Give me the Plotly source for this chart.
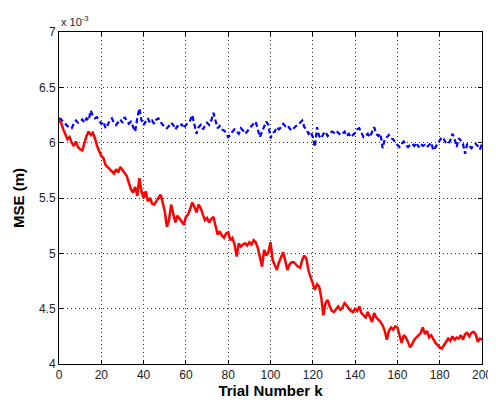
import plotly.graph_objects as go

# Trial numbers
trials = list(range(0, 201))

# MSE values in units of 1e-3 m (axis shows "x 10^-3")
mse_red = [
    6.20, 6.18, 6.12, 6.08, 6.03, 6.05, 6.00, 5.97, 6.01, 5.96, 5.94,
    5.93, 6.00, 6.06, 6.10, 6.07, 6.09, 6.04, 5.97, 5.92, 5.88,
    5.86, 5.80, 5.78, 5.76, 5.74, 5.72, 5.76, 5.73, 5.78, 5.75,
    5.72, 5.70, 5.64, 5.58, 5.55, 5.60, 5.52, 5.68, 5.56, 5.50,
    5.56, 5.47, 5.50, 5.45, 5.44, 5.47, 5.50, 5.53, 5.46, 5.38,
    5.24, 5.30, 5.44, 5.35, 5.28, 5.34, 5.31, 5.29, 5.26, 5.33,
    5.35, 5.40, 5.46, 5.42, 5.37, 5.44, 5.41, 5.35, 5.30, 5.32,
    5.28, 5.31, 5.33, 5.25, 5.17, 5.20, 5.16, 5.14, 5.18, 5.19,
    5.12, 5.14, 5.08, 4.97, 5.09, 5.06, 5.08, 5.09, 5.07, 5.10,
    5.08, 5.12, 5.10, 5.05, 4.95, 4.88, 5.03, 4.98, 5.01, 5.10,
    4.94, 4.90, 4.85, 4.92, 4.96, 5.01, 4.93, 4.85, 4.90, 4.92,
    4.92, 4.90, 4.88, 4.87, 4.94, 4.98, 4.95, 4.84, 4.78, 4.73,
    4.67, 4.72, 4.70, 4.60, 4.44, 4.55, 4.58, 4.52, 4.48, 4.47,
    4.50, 4.52, 4.49, 4.51, 4.55, 4.53, 4.50, 4.48, 4.47, 4.50,
    4.48, 4.52, 4.46, 4.44, 4.42, 4.47, 4.43, 4.38, 4.46, 4.42,
    4.40, 4.38, 4.35, 4.30, 4.22, 4.30, 4.33, 4.31, 4.34, 4.33,
    4.26, 4.19, 4.26, 4.24, 4.20, 4.15, 4.18, 4.22, 4.24, 4.26,
    4.28, 4.33, 4.27, 4.30, 4.24, 4.26, 4.22, 4.19, 4.17, 4.15,
    4.14, 4.17, 4.20, 4.23, 4.21, 4.25, 4.22, 4.24, 4.23, 4.26,
    4.22, 4.27, 4.28, 4.25, 4.28, 4.29, 4.27, 4.20, 4.23, 4.22,
]

mse_blue = [
    6.22, 6.21, 6.19, 6.17, 6.15, 6.14, 6.13, 6.17, 6.20, 6.18, 6.19,
    6.21, 6.18, 6.22, 6.20, 6.29, 6.24, 6.22, 6.23, 6.20, 6.17,
    6.19, 6.13, 6.16, 6.20, 6.22, 6.18, 6.16, 6.19, 6.21, 6.18,
    6.23, 6.20, 6.17, 6.19, 6.15, 6.10, 6.22, 6.31, 6.20, 6.16,
    6.19, 6.22, 6.18, 6.20, 6.17, 6.21, 6.22, 6.19, 6.16, 6.15,
    6.13, 6.15, 6.18, 6.16, 6.12, 6.15, 6.14, 6.17, 6.13, 6.16,
    6.18, 6.20, 6.25, 6.17, 6.08, 6.14, 6.16, 6.12, 6.15, 6.18,
    6.16, 6.20, 6.27, 6.19, 6.13, 6.15, 6.12, 6.11, 6.09, 6.05,
    6.07, 6.10, 6.12, 6.10, 6.08, 6.13, 6.11, 6.08, 6.10, 6.13,
    6.15, 6.17, 6.19, 6.12, 6.05, 6.10, 6.14, 6.19, 6.16, 6.04,
    6.09, 6.10, 6.14, 6.12, 6.14, 6.17, 6.15, 6.16, 6.13, 6.11,
    6.13, 6.15, 6.16, 6.18, 6.20, 6.14, 6.12, 6.08, 6.10, 6.05,
    5.96, 6.14, 6.06, 6.04, 6.08, 6.10, 6.06, 6.08, 6.10, 6.09,
    6.11, 6.09, 6.07, 6.08, 6.10, 6.06, 6.08, 6.05, 6.07, 6.09,
    6.12, 6.13, 6.09, 6.05, 6.06, 6.08, 6.05, 6.10, 6.14, 6.08,
    6.06, 6.08, 5.95, 6.03, 6.05, 6.07, 6.04, 6.03, 6.00, 5.98,
    5.96, 5.99, 6.01, 5.98, 5.96, 5.98, 5.99, 5.97, 6.00, 5.96,
    5.99, 5.97, 5.98, 5.96, 5.98, 6.00, 5.93, 5.96, 5.98, 6.01,
    6.05, 6.03, 6.00, 5.99, 6.02, 6.08, 6.04, 5.96, 6.04, 6.02,
    5.99, 5.90, 5.99, 5.97, 5.95, 5.98, 5.99, 5.97, 5.94, 5.99,
]

x_ticks = [0, 20, 40, 60, 80, 100, 120, 140, 160, 180, 200]
y_ticks = [4, 4.5, 5, 5.5, 6, 6.5, 7]
y_tick_labels = ["4", "4.5", "5", "5.5", "6", "6.5", "7"]

fig = go.Figure()
fig.add_trace(go.Scatter(x=trials, y=mse_blue, mode="lines",
                         line=dict(color="#0000ff", width=2.2, dash="5px,3px"),
                         showlegend=False))
fig.add_trace(go.Scatter(x=trials, y=mse_red, mode="lines",
                         line=dict(color="#ff0000", width=2.5),
                         showlegend=False))

axis_common = dict(
    showline=True, linecolor="black", linewidth=1, mirror="ticks",
    ticks="inside", ticklen=4, tickcolor="black",
    showgrid=True, gridcolor="#333333", griddash="1px,3px", gridwidth=1,
    zeroline=False, automargin=False,
    tickfont=dict(family="Liberation Sans, Arial", size=12, color="#222222"),
)

fig.update_xaxes(range=[0, 200], tickvals=x_ticks,
                 title=dict(text="<b>Trial Number k</b>", standoff=2,
                            font=dict(family="Liberation Sans, Arial", size=15, color="black")),
                 **axis_common)
fig.update_yaxes(range=[4, 7], tickvals=y_ticks, ticktext=y_tick_labels,
                 title=dict(text="<b>MSE (m)</b>", standoff=10,
                            font=dict(family="Liberation Sans, Arial", size=15, color="black")),
                 **axis_common)

fig.add_annotation(xref="paper", yref="paper", x=0.0, y=1.0, xanchor="left", yanchor="bottom",
                   text="x 10<sup>-3</sup>", showarrow=False, yshift=2,
                   font=dict(family="Liberation Sans, Arial", size=11, color="#222222"))

# The page body adds an 8px offset, so the figure is sized to fit the window.
fig.update_layout(
    width=488, height=395,
    margin=dict(l=51, r=14, t=24, b=39),
    paper_bgcolor="white", plot_bgcolor="white",
)

fig.write_html("out.html")
